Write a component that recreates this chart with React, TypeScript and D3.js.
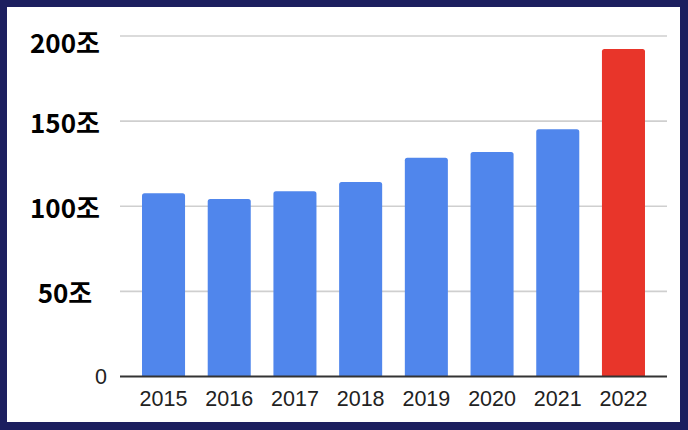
import React from "react";
import * as d3 from "d3";

const years = ["2015", "2016", "2017", "2018", "2019", "2020", "2021", "2022"];
const values = [107.6, 104.3, 108.8, 114.2, 128.5, 131.9, 145.2, 192.4];
const tickValues = [0, 50, 100, 150, 200];
const tickLabels = ["0", "50조", "100조", "150조", "200조"];
const barColors = ["#5086ec", "#5086ec", "#5086ec", "#5086ec", "#5086ec", "#5086ec", "#5086ec", "#e8352a"];

const W = 688;
const H = 430;
const plotLeft = 120;
const plotRight = 667;
const plotTop = 36;
const plotBottom = 376.5;

function topRoundedBar(x: number, y: number, w: number, h: number, r: number) {
  const rr = Math.min(r, w / 2, h);
  const p = d3.path();
  p.moveTo(x, y + h);
  p.lineTo(x, y + rr);
  p.quadraticCurveTo(x, y, x + rr, y);
  p.lineTo(x + w - rr, y);
  p.quadraticCurveTo(x + w, y, x + w, y + rr);
  p.lineTo(x + w, y + h);
  p.closePath();
  return p.toString();
}

export default function App() {
  const x = d3
    .scaleBand<string>()
    .domain(years)
    .range([plotLeft, plotRight])
    .paddingInner(0.345)
    .paddingOuter(0.335);
  const y = d3.scaleLinear().domain([0, 200]).range([plotBottom, plotTop]);

  return (
    <div style={{ position: "absolute", left: 0, top: 0, width: W, height: H }}>
      <svg width={W} height={H} style={{ display: "block" }}>
        <rect x={0} y={0} width={W} height={H} fill="#1c1f5f" />
        <rect x={7} y={7} width={W - 15} height={H - 15} fill="#ffffff" />
        {tickValues.slice(1).map((v) => (
          <line
            key={"g" + v}
            x1={plotLeft}
            x2={plotRight}
            y1={y(v)}
            y2={y(v)}
            stroke="#cfcfcf"
            strokeWidth={1.6}
          />
        ))}
        {years.map((yr, i) => {
          const bx = x(yr)!;
          const by = y(values[i]);
          return (
            <path
              key={yr}
              d={topRoundedBar(bx, by, x.bandwidth(), y(0) - by, 2.5)}
              fill={barColors[i]}
            />
          );
        })}
        <line
          x1={plotLeft}
          x2={plotRight}
          y1={y(0)}
          y2={y(0)}
          stroke="#333333"
          strokeWidth={1.8}
        />
        {tickValues.map((v, i) =>
          i === 0 ? (
            <text
              key={"t" + v}
              x={107}
              y={y(v)}
              dy="0.35em"
              textAnchor="end"
              fontFamily="'Liberation Sans', Arial, sans-serif"
              fontSize={21.5}
              fill="#222222"
            >
              {tickLabels[i]}
            </text>
          ) : (
            <text
              key={"t" + v}
              x={65}
              y={Math.max(y(v), 41.5)}
              dominantBaseline="central"
              textAnchor="middle"
              fontFamily="'Noto Sans CJK KR', 'Noto Sans', sans-serif"
              fontWeight="bold"
              fontSize={26}
              fill="#000000"
            >
              {tickLabels[i]}
            </text>
          )
        )}
        {years.map((yr) => (
          <text
            key={"x" + yr}
            x={x(yr)! + x.bandwidth() / 2}
            y={398}
            dy="0.35em"
            textAnchor="middle"
            fontFamily="'Liberation Sans', Arial, sans-serif"
            fontSize={21.5}
            fill="#222222"
          >
            {yr}
          </text>
        ))}
      </svg>
    </div>
  );
}
